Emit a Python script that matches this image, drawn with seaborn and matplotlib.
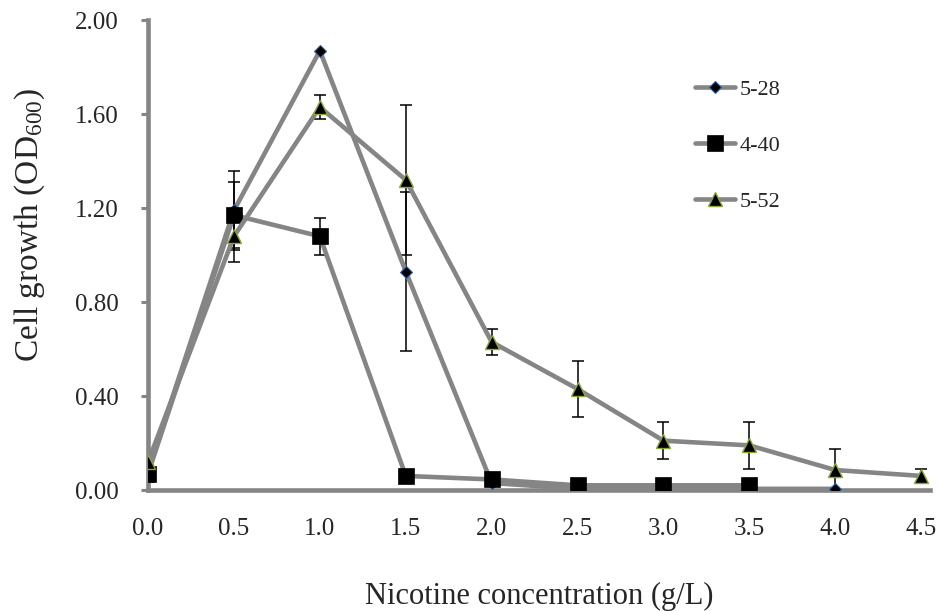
import matplotlib

matplotlib.use("Agg")
import matplotlib.pyplot as plt
import numpy as np
import pandas as pd
import seaborn as sns

# nicotine concentration (g/L)
conc = [0.0, 0.5, 1.0, 1.5, 2.0, 2.5, 3.0, 3.5, 4.0, 4.5]

strain_labels = ["5-28", "4-40", "5-52"]

od_5_28 = [0.08, 1.19, 1.87, 0.93, 0.03, 0.005, 0.005, 0.005, 0.005]
err_5_28 = [0.0, 0.17, 0.0, 0.34, 0.0, 0.0, 0.0, 0.0, 0.0]

od_4_40 = [0.07, 1.17, 1.08, 0.06, 0.045, 0.02, 0.02, 0.02]
err_4_40 = [0.035, 0.14, 0.08, 0.0, 0.0, 0.0, 0.0, 0.0]

od_5_52 = [0.12, 1.08, 1.63, 1.32, 0.63, 0.43, 0.21, 0.19, 0.085, 0.06]
err_5_52 = [0.0, 0.11, 0.05, 0.32, 0.055, 0.12, 0.08, 0.10, 0.09, 0.03]

x_ticks = [0.0, 0.5, 1.0, 1.5, 2.0, 2.5, 3.0, 3.5, 4.0, 4.5]
y_ticks = [0.0, 0.4, 0.8, 1.2, 1.6, 2.0]


def make_frame(label, values, errors):
    return pd.DataFrame(
        {
            "conc": conc[: len(values)],
            "od": values,
            "err": errors,
            "strain": label,
        }
    )


df = pd.concat(
    [
        make_frame("5-28", od_5_28, err_5_28),
        make_frame("4-40", od_4_40, err_4_40),
        make_frame("5-52", od_5_52, err_5_52),
    ],
    ignore_index=True,
)

sns.set_theme(style="white")
plt.rcParams["font.family"] = ["Liberation Serif", "DejaVu Serif"]
plt.rcParams["mathtext.fontset"] = "custom"
plt.rcParams["mathtext.rm"] = "Liberation Serif"
plt.rcParams["mathtext.it"] = "Liberation Serif:italic"

fig = plt.figure(figsize=(9.43, 6.11), dpi=100)
ax = fig.add_axes([0.157, 0.198, 0.829, 0.769])

styles = {
    "5-28": dict(marker="D", markersize=6.5, markeredgecolor="#2f5f9f", markeredgewidth=0.8),
    "4-40": dict(marker="s", markersize=11.5, markeredgecolor="black", markeredgewidth=0.5),
    "5-52": dict(marker="^", markersize=10.5, markeredgecolor="#8aa83a", markeredgewidth=1.0),
}

line_gray = "#858585"

# error bars first so lines and markers sit on top
for label in strain_labels:
    sub = df[df["strain"] == label]
    mask = sub["err"] > 0
    ax.errorbar(
        sub.loc[mask, "conc"],
        sub.loc[mask, "od"],
        yerr=sub.loc[mask, "err"],
        fmt="none",
        ecolor="black",
        elinewidth=1.1,
        capsize=4.5,
        capthick=1.1,
        zorder=2,
    )

for label in strain_labels:
    sub = df[df["strain"] == label]
    sns.lineplot(
        data=sub,
        x="conc",
        y="od",
        ax=ax,
        color=line_gray,
        linewidth=3.3,
        markerfacecolor="black",
        label=label,
        zorder=3,
        **styles[label],
    )

ax.set_xlim(0, 4.55)
ax.set_ylim(0, 2.0)
ax.set_xticks(x_ticks)
ax.set_xticklabels([f"{v:.1f}" for v in x_ticks])
ax.set_yticks(y_ticks)
ax.set_yticklabels([f"{v:.2f}" for v in y_ticks])

for side in ["top", "right"]:
    ax.spines[side].set_visible(False)
for side in ["left", "bottom"]:
    ax.spines[side].set_color(line_gray)
    ax.spines[side].set_linewidth(3.3)

ax.tick_params(axis="y", which="major", left=True, length=5, width=2.2, color=line_gray,
               labelsize=18, pad=16)
ax.tick_params(axis="x", which="major", bottom=False, length=0, labelsize=18, pad=20)

ax.set_xlabel("Nicotine concentration (g/L)", fontsize=22, labelpad=30)
ax.set_ylabel("Cell growth (OD$_{600}$)", fontsize=24, labelpad=15)
ax.yaxis.set_label_coords(-0.129, 0.564)

leg = ax.legend(
    loc="upper left",
    bbox_to_anchor=(0.70, 0.874),
    frameon=False,
    fontsize=16,
    borderpad=0,
    borderaxespad=0,
    labelspacing=1.6,
    handlelength=1.8,
    handletextpad=0.2,
)

fig.savefig("out.png", dpi=100)
